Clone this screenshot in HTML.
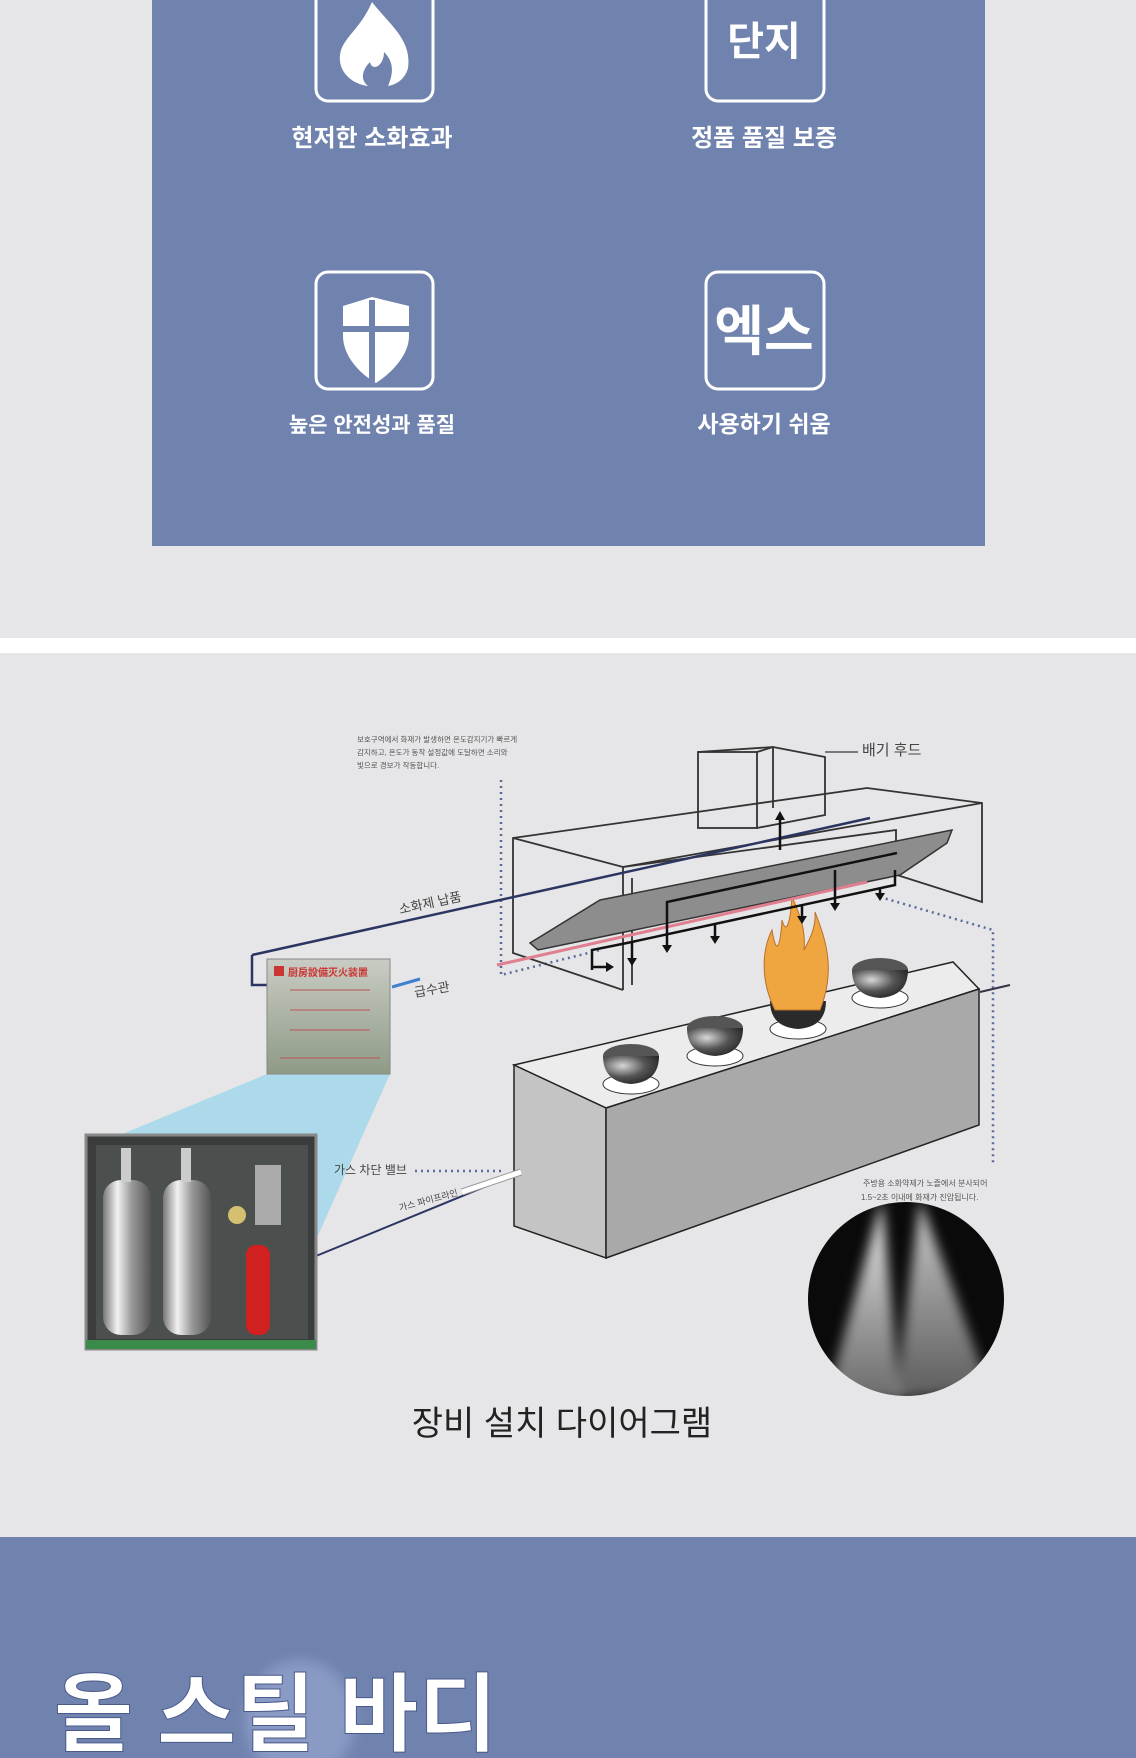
<!DOCTYPE html>
<html><head><meta charset="utf-8"><style>
html,body{margin:0;padding:0;background:#e6e6e8;}
svg{display:block}
text{font-family:"Liberation Sans","Noto Sans CJK KR",sans-serif;}
</style></head><body>
<svg width="1136" height="1758" viewBox="0 0 1136 1758" xmlns="http://www.w3.org/2000/svg">
<defs>
<radialGradient id="bowl" cx="0.35" cy="0.35" r="0.8"><stop offset="0" stop-color="#d8d8d8"/><stop offset="0.5" stop-color="#555"/><stop offset="1" stop-color="#1a1a1a"/></radialGradient>
<linearGradient id="cone" x1="0" y1="0" x2="0" y2="1"><stop offset="0" stop-color="#fff" stop-opacity="0.95"/><stop offset="1" stop-color="#ccc" stop-opacity="0.5"/></linearGradient>
<linearGradient id="cyl" x1="0" x2="1"><stop offset="0" stop-color="#777"/><stop offset="0.3" stop-color="#f2f2f2"/><stop offset="0.6" stop-color="#999"/><stop offset="1" stop-color="#555"/></linearGradient>
<linearGradient id="cbox" x1="0" y1="0" x2="0" y2="1"><stop offset="0" stop-color="#c9ccc4"/><stop offset="1" stop-color="#8e9a86"/></linearGradient>
<clipPath id="sc"><ellipse cx="906" cy="1299" rx="98" ry="97"/></clipPath>
<filter id="bl"><feGaussianBlur stdDeviation="6"/></filter>
</defs>
<rect width="1136" height="1758" fill="#e6e6e8"/>
<rect x="152" y="0" width="833" height="546" fill="#7083ae"/>
<g fill="none" stroke="#fff" stroke-width="3">
<rect x="316" y="-14" width="117" height="115" rx="12"/>
<rect x="706" y="-14" width="118" height="115" rx="12"/>
<rect x="316" y="272" width="117" height="117" rx="12"/>
<rect x="706" y="272" width="118" height="117" rx="12"/>
</g>
<path d="M372 2 C390 25 412 40 408 68 C405 80 395 85 388 86 C395 70 392 60 384 52 C384 66 372 72 370 62 C362 70 360 80 368 86 C352 84 338 72 340 55 C342 38 360 30 372 2Z" fill="#fff"/>
<path d="M343 306 L372 297 L409 306 L409 336 C409 356 390 374 376 383 C360 374 343 356 343 336Z" fill="#fff"/>
<rect x="369" y="300" width="6" height="82" fill="#7083ae"/>
<rect x="343" y="326" width="66" height="6" fill="#7083ae"/>
<text x="764" y="55" font-size="40" font-weight="bold" fill="#fff" text-anchor="middle">단지</text>
<text x="764" y="350" font-size="54" font-weight="bold" fill="#fff" text-anchor="middle">엑스</text>
<g fill="#fff" font-weight="bold" text-anchor="middle">
<text x="372" y="146" font-size="24">현저한 소화효과</text>
<text x="764" y="146" font-size="24">정품 품질 보증</text>
<text x="372" y="432" font-size="21">높은 안전성과 품질</text>
<text x="764" y="432" font-size="23">사용하기 쉬움</text>
</g>
<rect x="0" y="638" width="1136" height="15" fill="#fff"/>
<g font-size="7.5" fill="#555">
<text x="357" y="742">보호구역에서 화재가 발생하면 온도감지기가 빠르게</text>
<text x="357" y="755">감지하고, 온도가 동작 설정값에 도달하면 소리와</text>
<text x="357" y="768">빛으로 경보가 작동합니다.</text>
</g>
<g fill="none" stroke="#5a6a9a" stroke-width="2.5" stroke-dasharray="2,4">
<path d="M501 780 V975 L600 950"/>
<path d="M880 897 L993 930 V1165"/>
<path d="M415 1171 H501"/>
</g>
<polygon points="514,1065 953,962 979,989 606,1108" fill="#ececec" stroke="#222" stroke-width="1.5"/>
<polygon points="514,1065 606,1108 606,1258 514,1226" fill="#c4c4c4" stroke="#222" stroke-width="1.5"/>
<polygon points="606,1108 979,989 979,1125 606,1258" fill="#a9a9a9" stroke="#222" stroke-width="1.5"/>
<g>
<ellipse cx="631" cy="1084" rx="28" ry="10" fill="#fff" stroke="#333"/>
<ellipse cx="631" cy="1056" rx="28" ry="12" fill="#555"/><path d="M603 1056 Q603 1082 631 1084 Q659 1082 659 1056" fill="url(#bowl)"/>
<ellipse cx="715" cy="1056" rx="28" ry="10" fill="#fff" stroke="#333"/>
<ellipse cx="715" cy="1028" rx="28" ry="12" fill="#555"/><path d="M687 1028 Q687 1054 715 1056 Q743 1054 743 1028" fill="url(#bowl)"/>
<ellipse cx="798" cy="1029" rx="28" ry="10" fill="#fff" stroke="#333"/>
<path d="M770 1001 Q770 1027 798 1029 Q826 1027 826 1001" fill="#2a2a2a"/>
<ellipse cx="880" cy="998" rx="28" ry="10" fill="#fff" stroke="#333"/>
<ellipse cx="880" cy="970" rx="28" ry="12" fill="#555"/><path d="M852 970 Q852 996 880 998 Q908 996 908 970" fill="url(#bowl)"/>
</g>
<path d="M775 1010 C760 980 762 950 772 930 C776 955 780 950 782 920 C786 935 790 925 792 897 C800 915 806 930 804 950 C812 935 816 925 815 912 C826 940 836 970 820 1010Z" fill="#f0a640" stroke="#b8702a" stroke-width="1"/>
<path d="M980 992 L1010 985" stroke="#334" stroke-width="2"/>
<g fill="none" stroke="#333" stroke-width="1.8">
<polyline points="623,990 513,953 513,838 867,788 982,803 982,902 897,875"/>
<polyline points="513,838 623,867 982,803"/>
<line x1="623" y1="867" x2="623" y2="990"/>
<polyline points="632,878 632,985"/>
<polyline points="623,867 896,830 896,870"/>
<rect x="698" y="752" width="59" height="76"/>
<polyline points="698,752 773,747 825,757 825,815 757,828"/>
<line x1="773" y1="747" x2="773" y2="808"/>
<line x1="757" y1="752" x2="773" y2="747"/>
</g>
<line x1="825" y1="752" x2="858" y2="752" stroke="#555" stroke-width="1.5"/>
<polygon points="530,943 600,900 952,830 947,843 900,875 538,950" fill="#8d8d8d" stroke="#333" stroke-width="1.5"/>
<line x1="252" y1="955" x2="870" y2="818" stroke="#2c3561" stroke-width="2.5"/>
<polyline points="252,955 252,985 268,985" fill="none" stroke="#2c3561" stroke-width="2.5"/>
<line x1="497" y1="965" x2="867" y2="882" stroke="#e07f8f" stroke-width="3"/>
<g stroke="#111" stroke-width="2.5" fill="none">
<polyline points="897,853 667,902 667,947"/>
<polyline points="592,970 592,950 627,943 895,885 895,870"/>
<line x1="592" y1="967" x2="608" y2="967"/>
<line x1="632" y1="943" x2="632" y2="960"/><line x1="715" y1="925" x2="715" y2="938"/>
<line x1="802" y1="906" x2="802" y2="918"/><line x1="835" y1="870" x2="835" y2="905"/>
<line x1="880" y1="888" x2="880" y2="895"/><line x1="780" y1="850" x2="780" y2="818"/>
</g>
<g fill="#111">
<path d="M627 958 h10 l-5 8z"/><path d="M662 945 h10 l-5 8z"/><path d="M710 936 h10 l-5 8z"/>
<path d="M797 916 h10 l-5 8z"/><path d="M830 903 h10 l-5 8z"/><path d="M875 893 h10 l-5 8z"/>
<path d="M775 820 h10 l-5 -9z"/><path d="M606 962 v10 l8 -5z"/>
</g>
<text x="862" y="755" font-size="15" fill="#444">배기 후드</text>
<text x="400" y="914" font-size="13" fill="#444" transform="rotate(-12 400 914)">소화제 납품</text>
<line x1="392" y1="987" x2="420" y2="979" stroke="#3f7fd0" stroke-width="3"/>
<text x="415" y="997" font-size="13" fill="#444" transform="rotate(-10 415 997)">급수관</text>
<line x1="316" y1="1256" x2="516" y2="1174" stroke="#2c3561" stroke-width="2"/>
<line x1="462" y1="1192" x2="521" y2="1172" stroke="#999" stroke-width="7"/>
<line x1="462" y1="1192" x2="521" y2="1172" stroke="#fff" stroke-width="5"/>
<polygon points="267,1074 390,1074 316,1240 316,1135 120,1135" fill="#a6d8ea" opacity="0.9"/>
<text x="334" y="1174" font-size="12" fill="#444">가스 차단 밸브</text>
<text x="400" y="1211" font-size="9" fill="#444" transform="rotate(-15 400 1211)">가스 파이프라인</text>
<rect x="267" y="959" width="123" height="115" fill="url(#cbox)" stroke="#888"/>
<rect x="274" y="966" width="10" height="10" fill="#c33"/>
<text x="288" y="976" font-size="10" fill="#c33" font-weight="bold">厨房設備灭火装置</text>
<g stroke="#b55" stroke-width="1"><line x1="290" y1="990" x2="370" y2="990"/><line x1="290" y1="1010" x2="370" y2="1010"/><line x1="290" y1="1030" x2="370" y2="1030"/><line x1="280" y1="1058" x2="380" y2="1058"/></g>
<rect x="86" y="1135" width="230" height="214" fill="#3a3d3c" stroke="#888" stroke-width="3"/>
<rect x="96" y="1145" width="212" height="194" fill="#4b4f4e"/>
<rect x="86" y="1340" width="230" height="9" fill="#3a8a4a"/>
<rect x="103" y="1180" width="48" height="155" rx="18" fill="url(#cyl)"/>
<rect x="163" y="1180" width="48" height="155" rx="18" fill="url(#cyl)"/>
<rect x="121" y="1148" width="10" height="34" fill="#ccc"/><rect x="181" y="1148" width="10" height="34" fill="#ccc"/>
<rect x="246" y="1245" width="24" height="90" rx="10" fill="#d02020"/>
<circle cx="237" cy="1215" r="9" fill="#d4c070"/>
<rect x="255" y="1165" width="26" height="60" fill="#aaa"/>
<!-- spray -->
<ellipse cx="906" cy="1299" rx="98" ry="97" fill="#0a0a0a"/>
<g clip-path="url(#sc)">
<g filter="url(#bl)">
<path d="M882 1200 L826 1400 L900 1400 Z" fill="url(#cone)"/>
<path d="M920 1200 L895 1400 L990 1390 Z" fill="url(#cone)" opacity="0.85"/>
</g>
</g>
<g font-size="8" fill="#555"><text x="863" y="1186">주방용 소화약제가 노즐에서 분사되어</text><text x="861" y="1200">1.5~2초 이내에 화재가 진압됩니다.</text></g>
<text x="562" y="1435" font-size="34" fill="#222" text-anchor="middle">장비 설치 다이어그램</text>
<rect x="0" y="1537" width="1136" height="221" fill="#7083ae"/>
<ellipse cx="300" cy="1720" rx="55" ry="60" fill="#a8b6e0" opacity="0.45" filter="url(#bl)"/>
<text x="54" y="1744" font-size="86" font-weight="bold" fill="#fff" stroke="#4a5a8a" stroke-width="1">올 스틸 바디</text>
</svg>
</body></html>
